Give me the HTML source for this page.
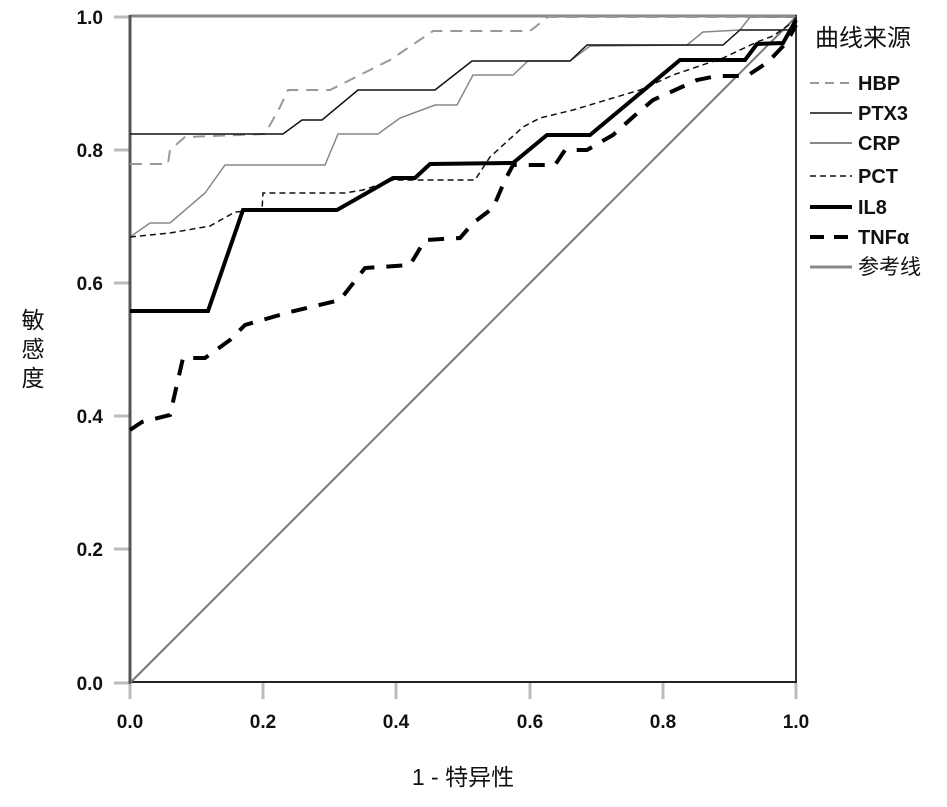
<!DOCTYPE html>
<html><head><meta charset="utf-8"><style>
body{margin:0;background:#fff}
text{font-family:"Liberation Sans","Noto Sans CJK SC",sans-serif}
</style></head><body>
<svg width="947" height="802" xmlns="http://www.w3.org/2000/svg">
<rect width="947" height="802" fill="#fff"/>
<!-- frame -->
<line x1="130" y1="16" x2="797" y2="16" stroke="#888" stroke-width="3"/>
<line x1="796" y1="15" x2="796" y2="684" stroke="#333" stroke-width="2"/>
<!-- ticks -->
<g stroke="#bbb" stroke-width="3">
<line x1="114" y1="17" x2="130" y2="17"/><line x1="114" y1="150" x2="130" y2="150"/>
<line x1="114" y1="283" x2="130" y2="283"/><line x1="114" y1="416" x2="130" y2="416"/>
<line x1="114" y1="549" x2="130" y2="549"/><line x1="114" y1="683" x2="130" y2="683"/>
<line x1="130" y1="683" x2="130" y2="699"/><line x1="263" y1="683" x2="263" y2="699"/>
<line x1="396" y1="683" x2="396" y2="699"/><line x1="530" y1="683" x2="530" y2="699"/>
<line x1="663" y1="683" x2="663" y2="699"/><line x1="796" y1="683" x2="796" y2="699"/>
</g>
<line x1="130" y1="15" x2="130" y2="684" stroke="#555" stroke-width="3"/>
<line x1="129" y1="682" x2="797" y2="682" stroke="#222" stroke-width="2"/>
<g font-size="19" font-weight="bold" fill="#111" text-anchor="end">
<text x="103" y="24">1.0</text><text x="103" y="157">0.8</text><text x="103" y="290">0.6</text>
<text x="103" y="423">0.4</text><text x="103" y="556">0.2</text><text x="103" y="690">0.0</text>
</g>
<g font-size="19" font-weight="bold" fill="#111" text-anchor="middle">
<text x="130" y="728">0.0</text><text x="263" y="728">0.2</text><text x="396" y="728">0.4</text>
<text x="530" y="728">0.6</text><text x="663" y="728">0.8</text><text x="796" y="728">1.0</text>
</g>
<text x="463" y="785" font-size="23" text-anchor="middle" fill="#111">1 - 特异性</text>
<g font-size="23" fill="#111" text-anchor="middle">
<text x="33" y="328">敏</text><text x="33" y="357">感</text><text x="33" y="386">度</text>
</g>
<!-- reference -->
<line x1="130" y1="683" x2="796" y2="17" stroke="#777" stroke-width="2"/>
<!-- HBP -->
<polyline fill="none" stroke="#999" stroke-width="2" stroke-dasharray="12,8" points="130,164 168,164 170,150 185,137 265,134 280,107 288,90 330,90 360,75 390,60 433,31 530,31 548,17 796,17"/>
<!-- CRP -->
<polyline fill="none" stroke="#888" stroke-width="1.5" points="130,237 150,223 170,223 205,193 225,165 325,165 338,134 378,134 400,118 435,105 457,105 473,75 513,75 528,61 570,61 590,46 687,45 703,32 740,30 750,17 796,17"/>
<!-- PTX3 -->
<polyline fill="none" stroke="#111" stroke-width="1.5" points="130,134 283,134 302,120 322,120 358,90 435,90 472,61 570,61 587,45 723,45 740,30 790,30 796,17"/>
<!-- PCT -->
<polyline fill="none" stroke="#111" stroke-width="1.5" stroke-dasharray="6,4" points="130,237 170,233 210,226 235,212 262,210 263,193 345,193 363,190 393,180 475,180 490,157 523,127 540,118 573,110 613,98 640,90 673,75 723,58 757,42 773,36 796,20"/>
<!-- IL8 -->
<polyline fill="none" stroke="#000" stroke-width="4" points="130,311 208,311 243,210 337,210 393,178 415,178 430,164 513,163 547,135 590,135 680,60 745,60 757,44 783,43 796,20"/>
<!-- TNF -->
<polyline fill="none" stroke="#000" stroke-width="4" stroke-dasharray="16,12" points="130,430 142,422 170,415 183,358 205,358 230,340 245,325 290,312 340,300 365,268 410,265 425,240 460,238 473,223 493,208 505,180 513,165 555,165 565,150 587,150 613,135 633,117 653,100 673,91 697,80 717,76 747,76 768,62 787,42 796,25"/>
<!-- legend -->
<text x="815" y="46" font-size="24" fill="#111">曲线来源</text>
<g stroke-width="2">
<line x1="810" y1="83" x2="852" y2="83" stroke="#999" stroke-dasharray="9,6"/>
<line x1="810" y1="113" x2="852" y2="113" stroke="#111" stroke-width="1.5"/>
<line x1="810" y1="143" x2="852" y2="143" stroke="#888"/>
<line x1="810" y1="176" x2="852" y2="176" stroke="#111" stroke-width="1.5" stroke-dasharray="6,4"/>
<line x1="810" y1="207" x2="852" y2="207" stroke="#000" stroke-width="4"/>
<line x1="810" y1="237" x2="852" y2="237" stroke="#000" stroke-width="4" stroke-dasharray="14,10"/>
<line x1="810" y1="267" x2="852" y2="267" stroke="#888" stroke-width="3"/>
</g>
<g font-size="20" font-weight="bold" fill="#111">
<text x="858" y="90">HBP</text><text x="858" y="120">PTX3</text><text x="858" y="150">CRP</text>
<text x="858" y="183">PCT</text><text x="858" y="214">IL8</text><text x="858" y="244">TNFα</text>
<text x="858" y="274" font-weight="normal" font-size="21">参考线</text>
</g>
</svg>
</body></html>
